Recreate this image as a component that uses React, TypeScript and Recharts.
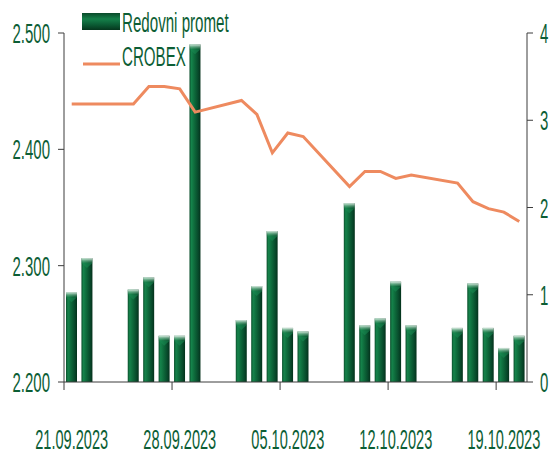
import React from 'react';
import { ComposedChart, Bar, Line, XAxis, YAxis, Legend } from 'recharts';

// ---- data ----
const dates = [
  '21.09.2023', '22.09.2023', '25.09.2023', '26.09.2023', '27.09.2023', '28.09.2023', '29.09.2023',
  '02.10.2023', '03.10.2023', '04.10.2023', '05.10.2023', '06.10.2023',
  '09.10.2023', '10.10.2023', '11.10.2023', '12.10.2023', '13.10.2023',
  '16.10.2023', '17.10.2023', '18.10.2023', '19.10.2023', '20.10.2023',
];
const redovniPromet = [
  1.03, 1.42, 1.06, 1.2, 0.53, 0.53, 3.87,
  0.71, 1.1, 1.73, 0.62, 0.58,
  2.05, 0.65, 0.73, 1.15, 0.65,
  0.62, 1.13, 0.62, 0.39, 0.53,
];
const crobex = [
  2439, 2439, 2439, 2454, 2454, 2452, 2432,
  2442, 2430, 2397, 2414, 2411,
  2368, 2381, 2381, 2375, 2378,
  2371, 2355, 2349, 2346, 2338,
];
const xTickDates = ['21.09.2023', '28.09.2023', '05.10.2023', '12.10.2023', '19.10.2023'];
const leftTicks = [2200, 2300, 2400, 2500];
const rightTicks = [0, 1, 2, 3, 4];
const seriesNames = ['Redovni promet', 'CROBEX'];

// ---- helpers ----
const START = dates[0];
const dayIndex = (s: string) => {
  const [d, m, y] = s.split('.').map(Number);
  const [d0, m0, y0] = START.split('.').map(Number);
  return Math.round((Date.UTC(y, m - 1, d) - Date.UTC(y0, m0 - 1, d0)) / 86400000);
};
const TOTAL_DAYS = dayIndex(dates[dates.length - 1]) + 1;

const data = dates.map((d, i) => ({
  x: dayIndex(d) + 0.5,
  date: d,
  promet: redovniPromet[i],
  crobex: crobex[i],
}));
const xTicks = xTickDates.map(dayIndex);
const tickLabelByDay: Record<number, string> = {};
xTickDates.forEach((d) => (tickLabelByDay[dayIndex(d)] = d));

// ---- layout / style ----
const W = 550;
const H = 455;
const LEFT_W = 64;
const RIGHT_W = 23;
const TOP = 33;
const XAXIS_H = 73;
const PLOT_W = W - LEFT_W - RIGHT_W;
const DAY_PX = PLOT_W / TOTAL_DAYS;
const TEXT_GREEN = '#0c5e35';
const AXIS = '#3c3c3c';
const LINE_COLOR = '#ee8a5f';
const FONT = '"Liberation Sans", Arial, sans-serif';
const SX = 0.535;

const fmtThousands = (v: number) => {
  const s = String(v);
  return s.length > 3 ? s.slice(0, s.length - 3) + '.' + s.slice(s.length - 3) : s;
};

const LeftTick = (props: any) => {
  const { x, y, payload } = props;
  return (
    <g transform={`translate(${x - 8},${y + 10}) scale(${SX},1)`}>
      <text x={0} y={0} textAnchor="end" fill={TEXT_GREEN} fontFamily={FONT} fontSize={28}>
        {fmtThousands(payload.value)}
      </text>
    </g>
  );
};

const RightTick = (props: any) => {
  const { x, y, payload } = props;
  return (
    <g transform={`translate(${x + 7},${y + 10}) scale(${SX},1)`}>
      <text x={0} y={0} textAnchor="start" fill={TEXT_GREEN} fontFamily={FONT} fontSize={28}>
        {payload.value}
      </text>
    </g>
  );
};

const BottomTick = (props: any) => {
  const { x, y, payload } = props;
  const label = tickLabelByDay[payload.value] ?? '';
  return (
    <g transform={`translate(${x + DAY_PX / 2},${y + 59}) scale(0.54,1)`}>
      <text x={0} y={0} textAnchor="middle" fill={TEXT_GREEN} fontFamily={FONT} fontSize={27}>
        {label}
      </text>
    </g>
  );
};

const BarShape = (props: any) => {
  const { x, y, width, height } = props;
  if (!height || height <= 0) return null;
  const cap = Math.min(5, height);
  return (
    <g>
      <rect x={x} y={y} width={width} height={height} fill="url(#barGrad)" />
      <rect x={x} y={y} width={width} height={cap} fill="url(#capGrad)" />
      <polygon
        points={`${x},${y + cap} ${x + width},${y + cap} ${x + width / 2},${y + cap + 5}`}
        fill="#1a8a52"
        opacity={0.55}
      />
    </g>
  );
};

const LegendContent = () => (
  <svg width={240} height={75} style={{ display: 'block', overflow: 'visible' }}>
    <defs>
      <linearGradient id="legGrad" x1="0" y1="0" x2="0" y2="1">
        <stop offset="0%" stopColor="#0a4a2a" />
        <stop offset="35%" stopColor="#15804a" />
        <stop offset="70%" stopColor="#0b5a33" />
        <stop offset="100%" stopColor="#05361d" />
      </linearGradient>
    </defs>
    <rect x={82} y={13} width={38} height={17} fill="url(#legGrad)" />
    <g transform={`translate(122,32) scale(0.54,1)`}>
      <text x={0} y={0} fill={TEXT_GREEN} fontFamily={FONT} fontSize={28}>
        {seriesNames[0]}
      </text>
    </g>
    <line x1={83} y1={64} x2={120} y2={64} stroke={LINE_COLOR} strokeWidth={3} />
    <g transform={`translate(122,66) scale(0.54,1)`}>
      <text x={0} y={0} fill={TEXT_GREEN} fontFamily={FONT} fontSize={28}>
        {seriesNames[1]}
      </text>
    </g>
  </svg>
);

export default function App() {
  return (
    <div style={{ position: 'absolute', left: 0, top: 0, width: W, height: H }}>
      <ComposedChart width={W} height={H} data={data} margin={{ top: TOP, right: 0, bottom: 0, left: 0 }}>
        <defs>
          <linearGradient id="barGrad" x1="0" y1="0" x2="1" y2="0">
            <stop offset="0%" stopColor="#0b4f2c" />
            <stop offset="18%" stopColor="#15834b" />
            <stop offset="45%" stopColor="#0e6a3b" />
            <stop offset="80%" stopColor="#07482a" />
            <stop offset="100%" stopColor="#04311b" />
          </linearGradient>
          <linearGradient id="capGrad" x1="0" y1="0" x2="0" y2="1">
            <stop offset="0%" stopColor="#e8f3ec" stopOpacity={0.95} />
            <stop offset="100%" stopColor="#3a9a66" stopOpacity={0.3} />
          </linearGradient>
        </defs>
        <XAxis
          type="number"
          dataKey="x"
          domain={[0, TOTAL_DAYS]}
          ticks={xTicks}
          interval={0}
          height={XAXIS_H}
          tickSize={8}
          tickMargin={0}
          stroke={AXIS}
          tickLine={{ stroke: AXIS }}
          axisLine={{ stroke: AXIS }}
          tick={<BottomTick />}
          allowDataOverflow
        />
        <YAxis
          yAxisId="left"
          orientation="left"
          domain={[2200, 2500]}
          ticks={leftTicks}
          width={LEFT_W}
          tickSize={6}
          tickMargin={0}
          axisLine={{ stroke: AXIS }}
          tickLine={{ stroke: AXIS }}
          tick={<LeftTick />}
          allowDataOverflow
          interval={0}
        />
        <YAxis
          yAxisId="right"
          orientation="right"
          domain={[0, 4]}
          ticks={rightTicks}
          width={RIGHT_W}
          tickSize={6}
          tickMargin={0}
          axisLine={{ stroke: AXIS }}
          tickLine={{ stroke: AXIS }}
          tick={<RightTick />}
          allowDataOverflow
          interval={0}
        />
        <Legend
          layout="vertical"
          align="center"
          verticalAlign="middle"
          wrapperStyle={{ top: 0, left: 0, width: 240, height: 75 }}
          content={<LegendContent />}
        />
        <Bar
          yAxisId="right"
          dataKey="promet"
          name={seriesNames[0]}
          barSize={11}
          shape={<BarShape />}
          isAnimationActive={false}
        />
        <Line
          yAxisId="left"
          dataKey="crobex"
          name={seriesNames[1]}
          type="linear"
          stroke={LINE_COLOR}
          strokeWidth={3}
          dot={false}
          activeDot={false}
          isAnimationActive={false}
        />
      </ComposedChart>
    </div>
  );
}
